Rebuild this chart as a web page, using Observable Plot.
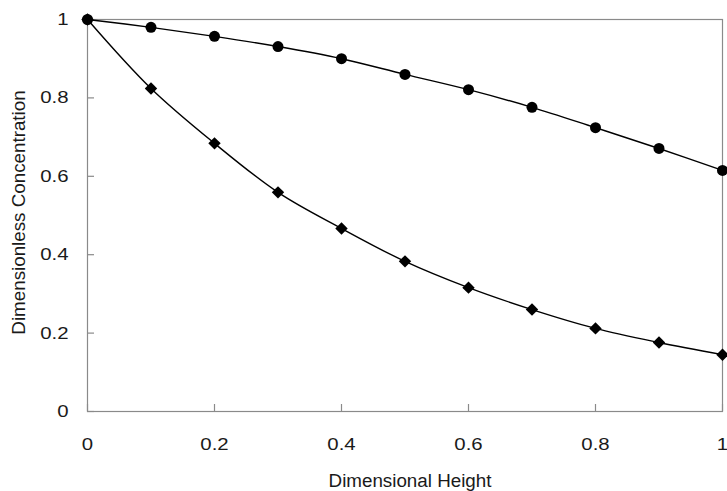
<!DOCTYPE html>
<html>
<head>
<meta charset="utf-8">
<script src="https://cdn.jsdelivr.net/npm/d3@7"></script>
<script src="https://cdn.jsdelivr.net/npm/@observablehq/plot@0.6"></script>
<style>
  html, body { margin: 0; padding: 0; background: #fff; }
  #chart svg { display: block; }
</style>
</head>
<body>
<div id="chart"></div>
<script>
// Dimensional height (x) shared by both series
const heights = [0, 0.1, 0.2, 0.3, 0.4, 0.5, 0.6, 0.7, 0.8, 0.9, 1.0];
// Series with circle markers (upper curve)
const circleSeries = [1.0, 0.980, 0.957, 0.931, 0.900, 0.860, 0.821, 0.776, 0.724, 0.671, 0.615];
// Series with diamond markers (lower curve)
const diamondSeries = [1.0, 0.824, 0.684, 0.559, 0.467, 0.383, 0.316, 0.260, 0.212, 0.176, 0.145];

const xTicks = [0, 0.2, 0.4, 0.6, 0.8, 1];
const xTickLabels = ["0", "0.2", "0.4", "0.6", "0.8", "1"];
const yTicks = [0, 0.2, 0.4, 0.6, 0.8, 1];
const yTickLabels = ["0", "0.2", "0.4", "0.6", "0.8", "1"];

const xTitle = "Dimensional Height";
const yTitle = "Dimensionless Concentration";

const circles = heights.map((h, i) => ({x: h, y: circleSeries[i]}));
const diamonds = heights.map((h, i) => ({x: h, y: diamondSeries[i]}));

const W = 727, H = 491;
const mL = 87, mR = 5, mT = 19, mB = 80;
const plotW = W - mL - mR, plotH = H - mT - mB;
const tickLen = 7;

const axisColor = "#8a8a8a";
const ink = "#1a1a1a";

const chart = Plot.plot({
  width: W,
  height: H,
  marginLeft: mL,
  marginRight: mR,
  marginTop: mT,
  marginBottom: mB,
  style: {fontFamily: "'Liberation Sans', Arial, sans-serif", color: ink, background: "#fff"},
  x: {domain: [0, 1]},
  y: {domain: [0, 1]},
  marks: [
    Plot.frame({stroke: axisColor, strokeWidth: 1.2}),
    // inward tick marks
    Plot.ruleX(xTicks, {x: d => d, stroke: axisColor, strokeWidth: 1.2, insetTop: plotH - tickLen}),
    Plot.ruleY(yTicks, {y: d => d, stroke: axisColor, strokeWidth: 1.2, insetRight: plotW - tickLen}),
    Plot.axisX({
      ticks: xTicks,
      tickFormat: (d, i) => xTickLabels[i],
      tickSize: 0,
      tickPadding: 26,
      fontSize: 17,
      label: xTitle,
      labelAnchor: "center",
      labelArrow: "none",
      labelOffset: 75
    }),
    Plot.axisY({
      ticks: yTicks,
      tickFormat: (d, i) => yTickLabels[i],
      tickSize: 0,
      tickPadding: 19,
      fontSize: 17,
      label: yTitle,
      labelAnchor: "center",
      labelArrow: "none",
      labelOffset: 76
    }),
    Plot.line(circles, {x: "x", y: "y", curve: "catmull-rom", stroke: "#000", strokeWidth: 1.4}),
    Plot.line(diamonds, {x: "x", y: "y", curve: "catmull-rom", stroke: "#000", strokeWidth: 1.4}),
    Plot.dot(circles, {x: "x", y: "y", r: 5.5, symbol: "circle", fill: "#000", stroke: "none"}),
    Plot.dot(diamonds, {x: "x", y: "y", r: 5.6, symbol: "diamond2", fill: "#000", stroke: "none"})
  ]
});

// Axis titles are larger than tick labels in the reference
chart.querySelectorAll('g[aria-label="x-axis label"] text, g[aria-label="y-axis label"] text').forEach(t => {
  t.setAttribute("font-size", "18.8");
  t.style.fontSize = "18.8px";
});
// Small centring offsets of the titles as in the reference
const xl = chart.querySelector('g[aria-label="x-axis label"]');
if (xl) xl.setAttribute("transform", ((xl.getAttribute("transform") || "") + " translate(5,0)").trim());
const yl = chart.querySelector('g[aria-label="y-axis label"]');
if (yl) yl.setAttribute("transform", ((yl.getAttribute("transform") || "") + " translate(0,-3)").trim());

// Tick labels in the reference are horizontally wide
chart.querySelectorAll('g[aria-label="x-axis tick label"] text, g[aria-label="y-axis tick label"] text').forEach(t => {
  const tr = t.getAttribute("transform");
  if (tr && tr.includes("translate")) {
    t.setAttribute("transform", tr + " scale(1.2,1)");
  } else {
    const x = t.getAttribute("x") || 0, y = t.getAttribute("y") || 0;
    t.removeAttribute("x"); t.removeAttribute("y");
    t.setAttribute("transform", `translate(${x},${y}) scale(1.2,1)`);
  }
});

document.getElementById("chart").appendChild(chart);
</script>
</body>
</html>
